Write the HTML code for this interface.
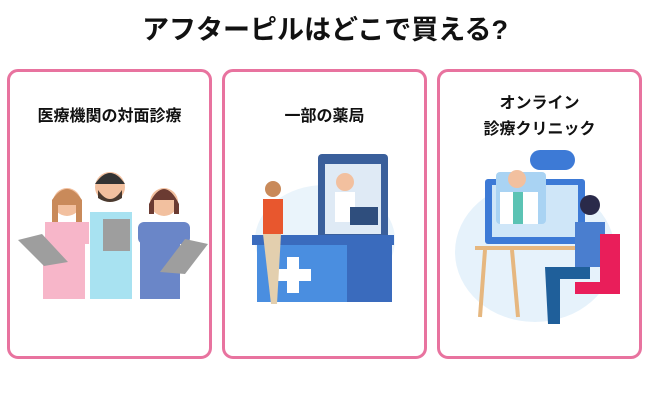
<!DOCTYPE html>
<html><head><meta charset="utf-8"><style>
body{margin:0;width:650px;height:400px;background:#fff;position:relative;overflow:hidden;font-family:"Liberation Sans","Noto Sans CJK JP",sans-serif;}
.t{position:absolute;left:0;width:650px;top:13px;text-align:center;font-size:27px;font-weight:bold;color:#111;line-height:34px;}
.c{position:absolute;top:69px;width:199px;height:284px;border:3px solid #e8739f;border-radius:11px;background:#fff;}
.h{position:absolute;left:0;width:100%;text-align:center;font-size:16px;font-weight:bold;color:#111;line-height:26px;}
svg{position:absolute;left:0;top:0}
</style></head><body>
<div class="t">アフターピルはどこで買える?</div>
<div class="c" style="left:7px"><div class="h" style="top:32px">医療機関の対面診療</div>
<svg width="199" height="284">
<rect x="33" y="170" width="42" height="57" fill="#f7b6c9"/>
<circle cx="57" cy="130" r="14" fill="#f2c09f"/><path d="M42 128 q15 -22 30 0 v40 h-6 v-35 h-18 v35 h-6z" fill="#c98a5a"/>
<path d="M35 150 h44 v22 h-44z" fill="#f7b6c9"/>
<rect x="80" y="140" width="42" height="87" fill="#a8e2f1"/>
<circle cx="100" cy="115" r="15" fill="#f2c09f"/><path d="M85 112 q15 -22 30 0 z" fill="#333"/><path d="M88 118 q12 18 24 0 v8 q-12 8 -24 0z" fill="#4a3a30"/>
<rect x="93" y="147" width="27" height="32" fill="#9e9e9e"/>
<rect x="130" y="162" width="40" height="65" fill="#6a86c8"/>
<circle cx="154" cy="130" r="14" fill="#f2c09f"/><path d="M139 132 q15 -30 30 0 v10 h-5 v-14 h-20 v14 h-5z" fill="#6b3b32"/>
<rect x="128" y="150" width="52" height="22" rx="6" fill="#6a86c8"/>
<polygon points="8,168 32,162 58,190 34,194" fill="#9e9e9e"/>
<polygon points="150,200 175,167 198,172 175,202" fill="#9e9e9e"/>
</svg></div>
<div class="c" style="left:222px"><div class="h" style="top:32px">一部の薬局</div>
<svg width="199" height="284">
<ellipse cx="100" cy="168" rx="70" ry="55" fill="#eaf4fb"/>
<rect x="93" y="82" width="70" height="85" rx="4" fill="#3a5f9b"/><rect x="100" y="92" width="56" height="70" fill="#dfeaf5"/>
<circle cx="120" cy="110" r="9" fill="#f2c09f"/><path d="M110 120 h20 v30 h-20z" fill="#fff"/>
<rect x="125" y="135" width="28" height="18" fill="#2f4e7d"/>
<rect x="27" y="163" width="142" height="10" fill="#3a6bbd"/>
<rect x="32" y="173" width="90" height="57" fill="#4a8ee0"/><rect x="122" y="173" width="45" height="57" fill="#3a6bbd"/>
<rect x="62" y="185" width="12" height="36" fill="#fff"/><rect x="50" y="197" width="36" height="12" fill="#fff"/>
<circle cx="48" cy="117" r="8" fill="#c98a5a"/><path d="M38 127 h20 v35 h-20z" fill="#e8572e"/><path d="M38 162 h18 l-4 70 h-6z" fill="#e3cfae"/>
</svg></div>
<div class="c" style="left:437px"><div class="h" style="top:19px">オンライン<br>診療クリニック</div>
<svg width="199" height="284">
<ellipse cx="95" cy="180" rx="80" ry="70" fill="#e6f2fb"/>
<rect x="45" y="107" width="100" height="65" rx="3" fill="#3d7ad6"/><rect x="52" y="113" width="86" height="52" fill="#cfe6f8"/>
<rect x="56" y="100" width="50" height="52" rx="4" fill="#a9d3f3"/>
<circle cx="77" cy="107" r="9" fill="#f2c09f"/><path d="M60 120 h38 v32 h-38z" fill="#fff"/><rect x="73" y="120" width="10" height="32" fill="#5bc3b4"/>
<rect x="90" y="78" width="45" height="20" rx="10" fill="#3d7ad6"/>
<rect x="35" y="174" width="125" height="4" fill="#e6b77f"/>
<line x1="45" y1="178" x2="40" y2="245" stroke="#e6b77f" stroke-width="4"/><line x1="72" y1="178" x2="78" y2="245" stroke="#e6b77f" stroke-width="4"/>
<circle cx="150" cy="133" r="10" fill="#2a2a4a"/><path d="M135 150 h30 v45 h-30z" fill="#4a7ecf"/>
<path d="M105 195 h45 v12 h-30 v45 h-12z" fill="#1f5f9a"/>
<path d="M160 162 h20 v60 h-45 v-12 h25z" fill="#e91e5a"/>
</svg></div>
</body></html>
